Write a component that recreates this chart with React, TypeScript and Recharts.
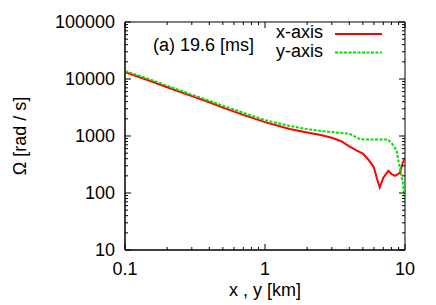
import React from 'react';
import { LineChart, Line, XAxis, YAxis, ReferenceArea } from 'recharts';

// x-axis profile (km, rad/s)
const xAxisX = [0.1, 0.15, 0.2, 0.3, 0.4, 0.5, 0.7, 1, 1.5, 2, 2.5, 3, 3.5, 4, 4.5, 5, 5.5, 6, 6.3, 6.6, 7, 7.6, 8, 8.5, 9.2, 9.6, 10];
const xAxisOmega = [13200, 9300, 7150, 5000, 3900, 3150, 2350, 1750, 1330, 1150, 1040, 930, 810, 660, 560, 490, 380, 280, 180, 125, 185, 245, 215, 200, 225, 330, 410];

// y-axis profile
const yAxisX = [0.1, 0.15, 0.2, 0.3, 0.4, 0.5, 0.7, 1, 1.5, 2, 2.5, 3, 3.5, 4, 4.8, 5.5, 6.5, 7.5, 8, 8.7, 8.95, 9.35, 9.65, 9.85, 10];
const yAxisOmega = [13800, 9900, 7600, 5300, 4150, 3400, 2550, 1900, 1500, 1320, 1230, 1170, 1130, 1100, 875, 870, 870, 870, 760, 560, 380, 225, 150, 100, 80];

const xTicks = [0.1, 0.2, 0.3, 0.4, 0.5, 0.6, 0.7, 0.8, 0.9, 1, 2, 3, 4, 5, 6, 7, 8, 9, 10];
const yTicks = [10, 20, 30, 40, 50, 60, 70, 80, 90, 100, 200, 300, 400, 500, 600, 700, 800, 900, 1000, 2000, 3000, 4000, 5000, 6000, 7000, 8000, 9000, 10000, 20000, 30000, 40000, 50000, 60000, 70000, 80000, 90000, 100000];

const xData = xAxisX.map((x, i) => ({ x, v: xAxisOmega[i] }));
const yData = yAxisX.map((x, i) => ({ x, v: yAxisOmega[i] }));

const W = 436;
const H = 305;
const M = { top: 22, right: 31, left: 0, bottom: 0 };
const Y_W = 125;
const X_H = 55;
const LEFT = M.left + Y_W;
const RIGHT = W - M.right;
const TOP = M.top;
const BOTTOM = H - M.bottom - X_H;

const FONT = '"Liberation Sans", Arial, sans-serif';
const RED = '#ff0000';
const GREEN = '#00e000';

const isMajor = (v: number) => Math.abs(Math.log10(v) - Math.round(Math.log10(v))) < 1e-6;

const YTick = (props: any) => {
  const { y, payload } = props;
  const major = isMajor(payload.value);
  const len = major ? 6 : 3;
  return (
    <g>
      <line x1={LEFT} x2={LEFT + len} y1={y} y2={y} stroke="#000" />
      <line x1={RIGHT} x2={RIGHT - len} y1={y} y2={y} stroke="#000" />
      {major && (
        <text x={LEFT - 10} y={y} textAnchor="end" dominantBaseline="central" fontSize={18} fontFamily={FONT} fill="#000">
          {payload.value}
        </text>
      )}
    </g>
  );
};

const XTick = (props: any) => {
  const { x, payload } = props;
  const major = isMajor(payload.value);
  const len = major ? 6 : 3;
  return (
    <g>
      <line x1={x} x2={x} y1={BOTTOM} y2={BOTTOM - len} stroke="#000" />
      <line x1={x} x2={x} y1={TOP} y2={TOP + len} stroke="#000" />
      {major && (
        <text x={x} y={BOTTOM + 19} textAnchor="middle" dominantBaseline="central" fontSize={18} fontFamily={FONT} fill="#000">
          {payload.value}
        </text>
      )}
    </g>
  );
};

const YLabel = () => {
  const cy = (TOP + BOTTOM) / 2;
  return (
    <text x={20} y={cy} transform={`rotate(-90, 20, ${cy})`} textAnchor="middle" dominantBaseline="central" fontSize={18} fontFamily={FONT} fill="#000">
      Ω [rad / s]
    </text>
  );
};

const XLabel = () => (
  <text x={(LEFT + RIGHT) / 2} y={290} textAnchor="middle" dominantBaseline="central" fontSize={18} fontFamily={FONT} fill="#000">
    x , y [km]
  </text>
);

export default function App() {
  return (
    <div style={{ position: 'absolute', left: 0, top: 0, width: W, height: H, background: '#fff' }}>
      <LineChart width={W} height={H} margin={M}>
        <XAxis
          dataKey="x"
          type="number"
          scale="log"
          domain={[0.1, 10]}
          ticks={xTicks}
          interval={0}
          height={X_H}
          tickLine={false}
          axisLine={{ stroke: '#000' }}
          tick={<XTick />}
          label={<XLabel />}
          allowDataOverflow
        />
        <YAxis
          dataKey="v"
          type="number"
          scale="log"
          domain={[10, 100000]}
          ticks={yTicks}
          interval={0}
          width={Y_W}
          tickLine={false}
          axisLine={{ stroke: '#000' }}
          tick={<YTick />}
          label={<YLabel />}
          allowDataOverflow
        />
        <ReferenceArea x1={0.1} x2={10} y1={10} y2={100000} fill="none" stroke="#000" strokeWidth={1} ifOverflow="visible" />
        <Line data={xData} dataKey="v" type="linear" stroke={RED} strokeWidth={2} dot={false} isAnimationActive={false} />
        <Line data={yData} dataKey="v" type="linear" stroke={GREEN} strokeWidth={2} strokeDasharray="3 1.5" dot={false} isAnimationActive={false} />
      </LineChart>
      <div style={{ position: 'absolute', left: 153, top: 34, fontFamily: FONT, fontSize: 18, lineHeight: '22px', whiteSpace: 'nowrap' }}>
        (a) 19.6 [ms]
      </div>
      <div style={{ position: 'absolute', left: 230, top: 23, width: 93, textAlign: 'right', fontFamily: FONT, fontSize: 18, lineHeight: '19px' }}>
        <div>x-axis</div>
        <div>y-axis</div>
      </div>
      <svg style={{ position: 'absolute', left: 0, top: 0 }} width={W} height={H} pointerEvents="none">
        <line x1={335} x2={382} y1={34} y2={34} stroke={RED} strokeWidth={2} />
        <line x1={335} x2={382} y1={52.5} y2={52.5} stroke={GREEN} strokeWidth={2} strokeDasharray="3 1.5" />
      </svg>
    </div>
  );
}
